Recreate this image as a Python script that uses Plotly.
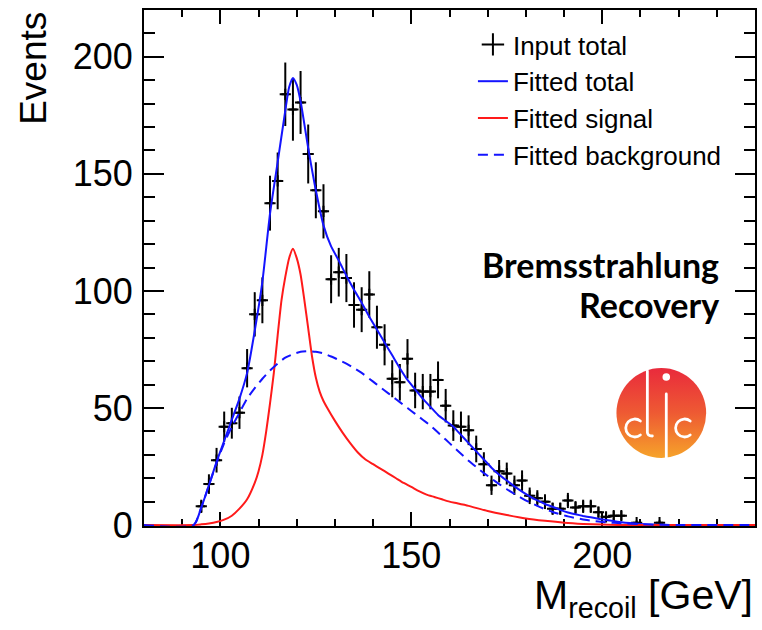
import base64
import numpy as np
import plotly.graph_objects as go

# ---------------- data ----------------
bin_centers = [95, 97, 99, 101, 103, 105, 107, 109, 111, 113, 115, 117, 119, 121, 123, 125,
               127, 129, 131, 133, 135, 137, 139, 141, 143, 145, 147, 149, 151, 153, 155, 157,
               159, 161, 163, 165, 167, 169, 171, 173, 175, 177, 179, 181, 183, 185, 187, 189,
               191, 193, 195, 197, 199, 201, 203, 205, 209, 215]
counts = [8, 17.5, 27.7, 42, 43.5, 48, 67, 90, 96, 137.5, 147, 184, 177.5, 180.5, 158.5, 143,
          134, 105, 108, 105.5, 94, 92, 98.5, 84.5, 77, 62.5, 61, 71, 57.5, 57, 57, 62,
          51, 42.5, 42, 40.5, 32.5, 26, 17, 23, 22, 17, 19, 12.5, 11.5, 10, 7, 7,
          10.5, 7.5, 8, 8, 5.5, 3.5, 4, 4, 1, 1]
bin_half_width = 1.0

total_x = [80, 93, 95, 97, 99, 101, 103, 105, 107, 109, 111, 113, 115, 117, 118, 119, 120, 121,
           123, 125, 127, 129, 131, 133, 135, 137, 139, 141, 143, 145, 147, 149, 151, 153, 155,
           157, 159, 161, 163, 165, 167, 169, 171, 173, 175, 177, 179, 181, 183, 185, 187, 189,
           191, 193, 195, 197, 199, 201, 203, 205, 210, 215, 220, 240]
total_y = [0, 0, 7.5, 17, 27, 36, 45, 54, 65, 83, 104, 133, 155, 177, 187, 191, 188, 181,
           161, 143, 128, 119, 113, 106.5, 100.5, 95, 89, 83.5, 78, 72.5, 67, 62, 58, 54, 50.5,
           47, 44.5, 42, 38.5, 35, 31.5, 28, 24.5, 21.5, 19, 16.5, 14.3, 12.3, 10.5, 9, 7.8, 6.5,
           5.4, 4.6, 3.9, 3.3, 2.7, 2.2, 1.7, 1.2, 0.5, 0.15, 0, 0]

signal_x = [80, 93, 95, 97, 99, 101, 103, 105, 107, 109, 110, 111, 112, 113, 114, 115, 116, 117,
            118, 119, 120, 121, 122, 123, 124, 125, 126, 127, 128, 130, 132, 134, 136, 138, 140,
            142, 144, 146, 148, 150, 152, 154, 156, 158, 160, 162, 165, 170, 175, 180, 185, 190,
            195, 200, 205, 240]
signal_y = [0, 0, 0.3, 0.7, 1.3, 2.3, 4, 7, 11, 18, 23, 30, 40, 52, 65, 81, 96, 106,
            114, 118, 114, 107, 96, 84, 72, 63, 57, 53, 50, 44.5, 39.5, 35, 31, 28, 26,
            24, 22, 20, 18, 16.3, 14.5, 13, 12, 11, 10, 9.3, 8.2, 6, 4.3, 2.8, 1.8, 1,
            0.5, 0.2, 0, 0]

bkg_x = [80, 93, 95, 97, 99, 101, 103, 105, 107, 109, 111, 113, 115, 117, 119, 121, 123, 125,
         127, 129, 131, 133, 135, 137, 139, 141, 143, 145, 147, 149, 151, 153, 155, 157, 159,
         161, 163, 165, 167, 169, 171, 173, 175, 177, 179, 181, 183, 185, 187, 189, 191, 193,
         195, 197, 199, 201, 203, 205, 210, 215, 220, 240]
bkg_y = [0, 0, 7.5, 17, 26.5, 35, 42, 48, 54, 58.5, 62.5, 66, 69, 71.5, 73, 74, 74.3, 74,
         73.3, 72, 70.5, 69, 67, 65, 62.5, 60, 57.5, 55, 52.5, 50, 47.5, 45, 42.5, 39.5, 36.5,
         33.5, 30.5, 27.5, 24.8, 22.2, 19.8, 17.5, 15.3, 13.3, 11.4, 9.7, 8.2, 6.8, 5.6, 4.6, 3.7, 3.0,
         2.4, 1.9, 1.5, 1.2, 0.95, 0.75, 0.35, 0.12, 0.03, 0]

x_ticks = [100, 150, 200]
y_ticks = [0, 50, 100, 150, 200]

# ---------------- layout geometry ----------------
W, H = 762, 630
L, R, T, B = 144, 5, 10, 104
PW, PH = W - L - R, H - T - B


def px(x):
    return (x - L) / PW


def py(y):
    return (H - B - y) / PH


FONT = "Liberation Sans, Arial, Helvetica, sans-serif"
BLUE = "#1414ff"
RED = "#ff1a1a"

fig = go.Figure()

errs = np.sqrt(np.array(counts, dtype=float))
fig.add_trace(go.Scatter(
    x=bin_centers, y=counts, mode="markers", name="Input total", showlegend=False,
    legendgroup="data",
    marker=dict(symbol="cross-thin", size=8, color="black", line=dict(color="black", width=2)),
    error_x=dict(type="constant", value=bin_half_width, width=0, thickness=2, color="black"),
    error_y=dict(type="data", array=errs, width=0, thickness=2, color="black"),
))
# legend-only entry with a larger cross symbol (no data drawn)
fig.add_trace(go.Scatter(
    x=[None], y=[None], mode="markers", name="Input total", legendgroup="data",
    marker=dict(symbol="cross-thin", size=20, color="black", line=dict(color="black", width=2)),
))
fig.add_trace(go.Scatter(x=total_x, y=total_y, mode="lines", name="Fitted total",
                         line=dict(color=BLUE, width=2, shape="spline", smoothing=0.6)))
fig.add_trace(go.Scatter(x=signal_x, y=signal_y, mode="lines", name="Fitted signal",
                         line=dict(color=RED, width=2, shape="spline", smoothing=0.6)))
fig.add_trace(go.Scatter(x=bkg_x, y=bkg_y, mode="lines", name="Fitted background",
                         line=dict(color=BLUE, width=2, dash="10px,6px", shape="spline", smoothing=0.6)))

axis_common = dict(
    showline=True, linecolor="black", linewidth=2, mirror="allticks",
    ticks="inside", tickwidth=2, tickcolor="black",
    showgrid=False, zeroline=False, layer="below traces",
    tickfont=dict(family=FONT, size=36, color="black"),
)
fig.update_xaxes(range=[80, 240], tickvals=x_ticks, ticklen=14,
                 minor=dict(dtick=10, tick0=0, ticks="inside", ticklen=7, tickwidth=2, tickcolor="black"),
                 ticklabelstandoff=-3, **axis_common)
fig.update_yaxes(range=[-0.4, 220], tickvals=y_ticks, ticklen=20,
                 minor=dict(dtick=10, tick0=0, ticks="inside", ticklen=11, tickwidth=2, tickcolor="black"),
                 ticklabelstandoff=2, **axis_common)

# CLIC logo as inline svg
svg = """<svg xmlns='http://www.w3.org/2000/svg' width='96' height='100' viewBox='0 0 96 100'>
<defs><linearGradient id='g' x1='0' y1='0' x2='0' y2='1'>
<stop offset='0' stop-color='#e92a3c'/><stop offset='0.5' stop-color='#ee5a33'/><stop offset='1' stop-color='#f6a32a'/>
</linearGradient></defs>
<circle cx='46' cy='47' r='45' fill='url(#g)'/>
<g fill='none' stroke='#ffffff' stroke-width='2.8' stroke-linecap='round'>
<path d='M25 55 A9 9 0 1 0 25 69'/>
<path d='M32 5 L32 66 Q32 70 37 70'/>
<path d='M51 28 L51 97'/>
<path d='M75 55 A9 9 0 1 0 75 69'/>
</g>
<circle cx='51' cy='11' r='3.8' fill='#ffffff'/>
</svg>"""
src = "data:image/svg+xml;base64," + base64.b64encode(svg.encode()).decode()

fig.update_layout(
    width=W, height=H,
    margin=dict(l=L, r=R, t=T, b=B, pad=0),
    paper_bgcolor="white", plot_bgcolor="white",
    showlegend=True,
    legend=dict(x=px(474), y=py(21), xanchor="left", yanchor="top",
                bgcolor="rgba(0,0,0,0)", borderwidth=0,
                font=dict(family=FONT, size=26, color="black"),
                itemsizing="trace", tracegroupgap=0),
    images=[dict(source=src, xref="paper", yref="paper", x=px(617), y=py(366),
                 sizex=96 / PW, sizey=100 / PH, xanchor="left", yanchor="top",
                 sizing="stretch", layer="above")],
    annotations=[
        dict(text="Events", xref="paper", yref="paper", x=px(33), y=1.0,
             xanchor="center", yanchor="top", textangle=-90, showarrow=False,
             font=dict(family=FONT, size=37, color="black")),
        dict(text="<b>Bremsstrahlung</b>", xref="paper", yref="paper", x=px(723), y=py(264),
             xanchor="right", yanchor="middle", showarrow=False,
             font=dict(family="Lato, sans-serif", size=34, color="black")),
        dict(text="<b>Recovery</b>", xref="paper", yref="paper", x=px(723), y=py(304),
             xanchor="right", yanchor="middle", showarrow=False,
             font=dict(family="Lato, sans-serif", size=34, color="black")),
        dict(text="M<sub>recoil</sub> [GeV]", xref="paper", yref="paper", x=1.0, y=py(598),
             xanchor="right", yanchor="middle", showarrow=False,
             font=dict(family=FONT, size=41, color="black")),
    ],
)

fig.write_html("out.html")
